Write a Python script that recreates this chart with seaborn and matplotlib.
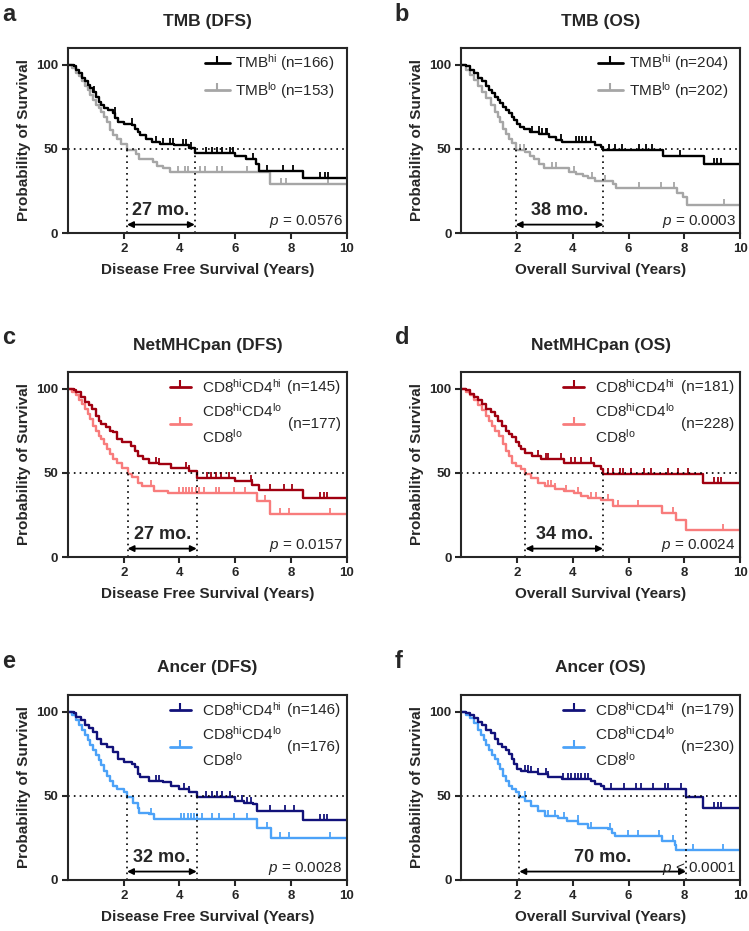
import numpy as np
import pandas as pd
import matplotlib
matplotlib.use('Agg')
import matplotlib.pyplot as plt
import seaborn as sns

# Kaplan-Meier step data (time in years, survival in %)
# a: TMB (DFS)
a_hi_t = [0, 0.2, 0.3, 0.4, 0.5, 0.6, 0.7, 0.8, 0.9, 1.0, 1.1, 1.2, 1.3, 1.45, 1.6, 1.7, 1.8, 2.0,
          2.3, 2.4, 2.5, 2.6, 2.8, 3.0, 3.3, 3.8, 4.35, 4.55, 6.0, 6.4, 6.75, 6.85, 8.45]
a_hi_s = [100, 99, 97, 95, 92, 90, 88, 86, 84, 81, 78, 76, 74, 73, 71, 68, 66, 65,
          64, 62, 60, 58, 56, 54, 53, 52, 50.5, 47.5, 46, 44, 41, 37, 32.5]
a_lo_t = [0, 0.15, 0.3, 0.4, 0.5, 0.6, 0.7, 0.8, 0.9, 1.0, 1.1, 1.2, 1.3, 1.4, 1.5, 1.6, 1.75,
          1.9, 2.1, 2.45, 2.55, 3.05, 3.2, 3.4, 3.65, 7.25]
a_lo_s = [100, 98, 95, 93, 90, 87, 85, 82, 79, 76, 74, 72, 69, 66, 61, 58, 56,
          53, 49.5, 47, 44, 42, 40, 38.5, 36, 29]
a_hi_cens = [0.95, 1.68, 2.28, 3.17, 3.41, 3.65, 3.77, 4.13, 4.25, 4.43, 4.97, 5.15, 5.33, 5.51,
             5.81, 5.93, 6.65, 7.13, 7.73, 8.09, 9.04, 9.22, 9.34]
a_lo_cens = [3.95, 4.19, 4.31, 4.73, 4.91, 5.33, 5.51, 6.41, 7.66, 7.84, 9.34]

# b: TMB (OS)
b_hi_t = [0, 0.15, 0.3, 0.45, 0.6, 0.75, 0.9, 1.0, 1.1, 1.2, 1.3, 1.4, 1.5, 1.6, 1.7, 1.8, 1.9,
          2.0, 2.1, 2.25, 2.45, 2.8, 3.15, 3.4, 3.6, 4.8, 5.0, 5.1, 7.25, 8.7]
b_hi_s = [100, 99, 97, 95, 92, 90, 87, 85, 83, 81, 79, 77, 75, 73, 71, 69, 67,
          65, 63, 62, 60, 59, 57, 55, 54, 52.5, 51, 49.5, 46, 41]
b_lo_t = [0, 0.15, 0.3, 0.45, 0.6, 0.75, 0.9, 1.05, 1.2, 1.3, 1.4, 1.5, 1.6, 1.7, 1.8, 1.95,
          2.3, 2.45, 2.6, 2.8, 2.95, 3.85, 4.1, 4.35, 4.55, 4.8, 5.45, 5.55, 7.75, 7.95, 8.1]
b_lo_s = [100, 97, 94, 91, 87, 84, 80, 76, 72, 69, 66, 62, 59, 56, 53.5, 49.5,
          48, 46, 44, 41, 38.5, 36.5, 35, 34, 32.5, 31, 29, 26.5, 24, 21.5, 16.5]
b_hi_cens = [2.54, 2.78, 2.9, 3.02, 3.08, 3.56, 4.1, 4.22, 4.34, 4.46, 4.64, 5.29, 5.53, 5.77,
             6.37, 6.61, 6.85, 7.85, 9.07, 9.19, 9.31]
b_lo_cens = [2.12, 2.24, 3.26, 3.38, 4.04, 4.69, 5.17, 6.37, 7.15, 7.63, 9.43]

# c: NetMHCpan (DFS)
c_hi_t = [0, 0.2, 0.3, 0.45, 0.6, 0.75, 0.85, 1.0, 1.1, 1.2, 1.35, 1.5, 1.6, 1.75, 1.95, 2.25,
          2.4, 2.5, 2.7, 2.9, 3.25, 3.7, 4.35, 4.62, 6.0, 6.6, 6.85, 8.45]
c_hi_s = [100, 99, 98, 95, 92, 90, 88, 84, 81, 79, 77, 75, 74, 70, 68, 66,
          63, 60, 58, 56, 55, 53, 51, 47, 45, 43, 40, 35]
c_lo_t = [0, 0.15, 0.3, 0.4, 0.5, 0.6, 0.7, 0.8, 0.9, 1.0, 1.1, 1.2, 1.3, 1.4, 1.5, 1.6, 1.75,
          1.95, 2.14, 2.3, 2.5, 2.65, 3.1, 3.6, 6.8, 7.25]
c_lo_s = [100, 98, 96, 93, 91, 88, 85, 82, 78, 75, 72, 70, 67, 64, 61, 58, 56,
          53, 49.5, 47.5, 44, 42, 39, 38, 33, 25.5]
c_hi_cens = [3.15, 3.27, 4.23, 4.35, 5.0, 5.12, 5.3, 5.48, 5.77, 6.55, 6.61, 7.26, 7.74, 8.04,
             9.05, 9.17, 9.29]
c_lo_cens = [2.98, 3.99, 4.11, 4.23, 4.35, 4.46, 4.58, 4.7, 4.88, 5.3, 5.42, 5.95, 6.37, 7.08,
             7.62, 7.92, 9.4]

# d: NetMHCpan (OS)
d_hi_t = [0, 0.15, 0.3, 0.45, 0.6, 0.75, 0.9, 1.05, 1.2, 1.3, 1.45, 1.6, 1.7, 1.8, 1.95, 2.05,
          2.15, 2.3, 2.55, 2.85, 3.7, 4.75, 5.0, 5.08, 8.66]
d_hi_s = [100, 99, 97, 95, 93, 91, 88, 86, 84, 81, 78, 75, 73, 71, 68, 66,
          64, 62, 60, 58, 56, 54, 52, 49.5, 44]
d_lo_t = [0, 0.15, 0.3, 0.45, 0.6, 0.75, 0.9, 1.0, 1.1, 1.2, 1.35, 1.5, 1.6, 1.7, 1.8, 1.95,
          2.15, 2.3, 2.5, 2.75, 3.0, 3.35, 3.7, 4.05, 4.3, 4.55, 5.0, 5.45, 7.2, 7.7, 8.05]
d_lo_s = [100, 98, 96, 93, 90, 87, 84, 81, 78, 75, 72, 67, 63, 60, 56, 54,
          52, 49.5, 47, 44, 42, 40.5, 39, 38, 36, 35, 34, 30, 26, 22, 16]
d_hi_cens = [2.75, 3.05, 3.1, 3.58, 3.94, 4.06, 4.3, 4.66, 5.26, 5.44, 5.68, 5.8, 6.09, 6.57,
             6.81, 7.41, 7.77, 8.12, 9.08, 9.2, 9.32]
d_lo_cens = [3.1, 3.23, 3.35, 3.76, 4.18, 4.66, 4.84, 5.26, 5.62, 6.33, 7.59, 9.38]

# e: Ancer (DFS)
e_hi_t = [0, 0.2, 0.3, 0.45, 0.6, 0.75, 0.9, 1.05, 1.2, 1.4, 1.6, 1.8, 2.0, 2.3, 2.4, 2.5,
          2.6, 2.9, 3.4, 3.7, 4.0, 4.35, 4.62, 6.0, 6.3, 6.65, 6.8, 8.45]
e_hi_s = [100, 99, 97, 95, 92, 90, 88, 84, 81, 79, 76, 72, 70, 69, 67, 63,
          61, 59, 58, 56, 54, 52.5, 49, 47, 46, 45, 41, 35.5]
e_lo_t = [0, 0.15, 0.3, 0.4, 0.5, 0.6, 0.7, 0.8, 0.9, 1.0, 1.1, 1.2, 1.3, 1.4, 1.5, 1.6, 1.75,
          2.0, 2.12, 2.35, 2.5, 2.55, 2.9, 3.1, 6.8, 7.3]
e_lo_s = [100, 98, 95, 92, 89, 86, 83, 80, 77, 74, 71, 68, 65, 62, 59, 56, 54,
          52, 49.5, 46, 43, 40, 39, 36, 31, 25]
e_hi_cens = [3.15, 3.27, 4.17, 4.35, 4.94, 5.18, 5.36, 5.54, 5.83, 6.25, 6.43, 6.55, 7.26, 7.8,
             8.1, 9.05, 9.17, 9.29]
e_lo_cens = [2.98, 4.05, 4.17, 4.29, 4.4, 4.52, 4.64, 4.82, 5.18, 5.42, 5.95, 6.43, 7.14, 7.62,
             7.92, 9.4]

# f: Ancer (OS)
f_hi_t = [0, 0.15, 0.3, 0.45, 0.6, 0.75, 0.9, 1.05, 1.2, 1.3, 1.45, 1.6, 1.7, 1.8, 1.9, 2.0,
          2.15, 2.4, 2.75, 3.1, 3.6, 4.65, 4.8, 5.0, 5.12, 8.06, 8.66]
f_hi_s = [100, 99, 98, 96, 94, 92, 89, 87, 84, 81, 79, 77, 75, 72, 69, 66,
          65, 64, 63, 61, 60, 59, 57, 56, 54, 49, 43]
f_lo_t = [0, 0.15, 0.3, 0.45, 0.6, 0.7, 0.8, 0.9, 1.0, 1.1, 1.2, 1.3, 1.4, 1.5, 1.6, 1.7, 1.8,
          1.95, 2.08, 2.3, 2.5, 2.75, 3.0, 3.45, 3.8, 4.2, 4.55, 5.25, 5.4, 5.5, 7.2, 7.65, 7.72]
f_lo_s = [100, 98, 96, 93, 89, 86, 83, 80, 77, 74, 72, 69, 66, 62, 59, 56, 54,
          52, 49.5, 47, 44, 41, 38, 37, 35, 33, 31, 30, 28, 26, 23, 21, 18]
f_hi_cens = [2.27, 2.39, 2.51, 2.75, 3.05, 3.11, 3.64, 3.82, 3.94, 4.06, 4.18, 4.3, 4.42, 4.54,
             5.38, 5.85, 6.27, 6.45, 6.87, 7.29, 7.41, 7.89, 9.08, 9.2, 9.32]
f_lo_cens = [2.27, 3.11, 3.35, 3.7, 4.18, 4.66, 5.32, 5.97, 6.33, 7.11, 7.59, 8.3, 9.38]

# per-panel annotations
panel_letters = ['a', 'b', 'c', 'd', 'e', 'f']
panel_titles = ['TMB (DFS)', 'TMB (OS)', 'NetMHCpan (DFS)', 'NetMHCpan (OS)', 'Ancer (DFS)', 'Ancer (OS)']
x_labels = ['Disease Free Survival (Years)', 'Overall Survival (Years)'] * 3
medians = [(2.12, 4.55), (1.95, 5.1), (2.14, 4.62), (2.3, 5.08), (2.12, 4.62), (2.08, 8.06)]
gain_labels = ['27 mo.', '38 mo.', '27 mo.', '34 mo.', '32 mo.', '70 mo.']
p_labels = ['= 0.0576', '= 0.0003', '= 0.0157', '= 0.0024', '= 0.0028', '< 0.0001']
n_hi = [166, 204, 145, 181, 146, 179]
n_lo = [153, 202, 177, 228, 176, 230]
hi_colors = ['#000000', '#000000', '#a00010', '#a00010', '#12127a', '#12127a']
lo_colors = ['#a6a6a6', '#a6a6a6', '#f87c7c', '#f87c7c', '#4ca2f8', '#4ca2f8']

curves = [
    (a_hi_t, a_hi_s, a_hi_cens, a_lo_t, a_lo_s, a_lo_cens),
    (b_hi_t, b_hi_s, b_hi_cens, b_lo_t, b_lo_s, b_lo_cens),
    (c_hi_t, c_hi_s, c_hi_cens, c_lo_t, c_lo_s, c_lo_cens),
    (d_hi_t, d_hi_s, d_hi_cens, d_lo_t, d_lo_s, d_lo_cens),
    (e_hi_t, e_hi_s, e_hi_cens, e_lo_t, e_lo_s, e_lo_cens),
    (f_hi_t, f_hi_s, f_hi_cens, f_lo_t, f_lo_s, f_lo_cens),
]

sns.set_style('ticks')
plt.rcParams['font.family'] = ['Liberation Sans', 'DejaVu Sans']
plt.rcParams['mathtext.fontset'] = 'custom'
plt.rcParams['mathtext.rm'] = 'Liberation Sans'
plt.rcParams['mathtext.it'] = 'Liberation Sans:italic'
plt.rcParams['mathtext.bf'] = 'Liberation Sans:bold'


def draw_km(ax, t, s, cens, color):
    df = pd.DataFrame({'t': list(t) + [10], 's': list(s) + [s[-1]]})
    sns.lineplot(data=df, x='t', y='s', drawstyle='steps-post', estimator=None, sort=False,
                 color=color, linewidth=1.7, ax=ax)
    idx = np.searchsorted(t, cens, side='right') - 1
    cdf = pd.DataFrame({'t': cens, 's': np.array(s)[idx]})
    sns.scatterplot(data=cdf, x='t', y='s', marker=2, s=16, color=color, linewidth=1.3, ax=ax)


def legend_row(ax, y, color, x0, x1):
    ax.plot([x0, x1], [y, y], color=color, lw=2, transform=ax.transAxes, clip_on=False)
    ax.plot([(x0 + x1) / 2], [y], color=color, marker=2, ms=5, mew=1.5,
            transform=ax.transAxes, clip_on=False)


fig = plt.figure(figsize=(7.49, 9.31), dpi=100)
lefts = [0.0908, 0.616]
bottoms = [0.7497, 0.4017, 0.0548]
letter_y = [0.977, 0.630, 0.282]

for i in range(6):
    row, col = divmod(i, 2)
    ax = fig.add_axes([lefts[col], bottoms[row], 0.372, 0.199])
    hi_t, hi_s, hi_c, lo_t, lo_s, lo_c = curves[i]

    draw_km(ax, lo_t, lo_s, lo_c, lo_colors[i])
    draw_km(ax, hi_t, hi_s, hi_c, hi_colors[i])

    m1, m2 = medians[i]
    ax.axhline(50, color='k', ls=(0, (1, 2.5)), lw=1.2)
    ax.vlines([m1, m2], 0, 50, color='k', linestyles=[(0, (1, 2.5))], lw=1.2)
    ax.annotate('', xy=(m2, 5), xytext=(m1, 5),
                arrowprops=dict(arrowstyle='<|-|>', color='k', lw=1.3,
                                mutation_scale=9, shrinkA=0, shrinkB=0))
    ax.text((m1 + m2) / 2, 8.5, gain_labels[i], ha='center', va='bottom',
            fontsize=13, fontweight='bold')
    ax.text(9.85, 2, r'$\mathit{p}$ ' + p_labels[i], ha='right', va='bottom', fontsize=11)

    # legend
    if i < 2:
        legend_row(ax, 0.92, hi_colors[i], 0.49, 0.58)
        legend_row(ax, 0.77, lo_colors[i], 0.49, 0.58)
        ax.text(0.6, 0.92, r'TMB$^{\mathrm{hi}}$ (n=%d)' % n_hi[i], transform=ax.transAxes,
                va='center', fontsize=11)
        ax.text(0.6, 0.77, r'TMB$^{\mathrm{lo}}$ (n=%d)' % n_lo[i], transform=ax.transAxes,
                va='center', fontsize=11)
    else:
        legend_row(ax, 0.92, hi_colors[i], 0.365, 0.44)
        legend_row(ax, 0.72, lo_colors[i], 0.365, 0.44)
        ax.text(0.48, 0.92, r'CD8$^{\mathrm{hi}}$CD4$^{\mathrm{hi}}$', transform=ax.transAxes,
                va='center', fontsize=11)
        ax.text(0.48, 0.79, r'CD8$^{\mathrm{hi}}$CD4$^{\mathrm{lo}}$', transform=ax.transAxes,
                va='center', fontsize=11)
        ax.text(0.48, 0.65, r'CD8$^{\mathrm{lo}}$', transform=ax.transAxes,
                va='center', fontsize=11)
        ax.text(0.978, 0.92, '(n=%d)' % n_hi[i], transform=ax.transAxes,
                va='center', ha='right', fontsize=11)
        ax.text(0.978, 0.72, '(n=%d)' % n_lo[i], transform=ax.transAxes,
                va='center', ha='right', fontsize=11)

    ax.set_xlim(0, 10)
    ax.set_ylim(0, 110)
    ax.set_xticks([2, 4, 6, 8, 10])
    ax.set_yticks([0, 50, 100])
    ax.tick_params(width=1.5, length=4, labelsize=9.5, pad=3)
    for lab in ax.get_xticklabels() + ax.get_yticklabels():
        lab.set_fontweight('bold')
    for sp in ax.spines.values():
        sp.set_linewidth(1.5)
    ax.set_xlabel(x_labels[i], fontsize=11, fontweight='bold', labelpad=6)
    ax.set_ylabel('Probability of Survival', fontsize=11, fontweight='bold', labelpad=4)
    ax.set_title(panel_titles[i], fontsize=12.5, fontweight='bold', pad=16)

    fig.text(0.003 if col == 0 else 0.527, letter_y[row], panel_letters[i],
             fontsize=17, fontweight='bold', va='baseline')

fig.savefig('out.png', dpi=100)
